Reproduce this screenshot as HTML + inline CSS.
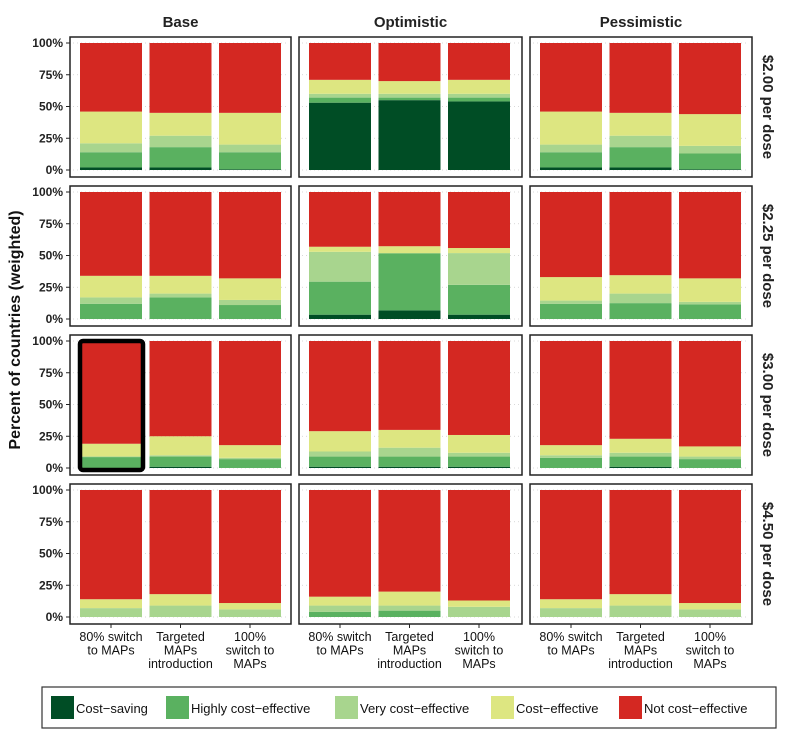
<!DOCTYPE html>
<html><head><meta charset="utf-8">
<style>
body{margin:0;background:#fff;width:786px;height:735px;overflow:hidden;font-family:"Liberation Sans",sans-serif;}
svg text{font-family:"Liberation Sans",sans-serif;}
</style></head>
<body>
<svg id="chart" width="786" height="735" xmlns="http://www.w3.org/2000/svg"></svg>
<script>
const scenarios = ["Base","Optimistic","Pessimistic"];
const prices = ["$2.00 per dose","$2.25 per dose","$3.00 per dose","$4.50 per dose"];
const strategies = [["80%  switch","to MAPs"],["Targeted","MAPs","introduction"],["100%","switch to","MAPs"]];
const categories = ["Cost\u2212saving","Highly cost\u2212effective","Very cost\u2212effective","Cost\u2212effective","Not cost\u2212effective"];
const colors = ["#004d25","#5ab160","#a8d58e","#dde681","#d42822"];
const yTicks = [0,25,50,75,100];
// values: [price][scenario][strategy] = [costSaving, highly, very, costEffective] (remainder = not cost-effective)
const row200 = [
 [[2,12,7,25],[2,16,9,18],[0.5,13.5,6,25]],
 [[53,4,3,11],[55,2,3,10],[54,3,3,11]],
 [[2,12,6,26],[2,16,9,18],[0.5,12.5,6,25]]
];
const row225 = [
 [[0,12,5,17],[0,17,3,14],[0,11,4,17]],
 [[3.4,26,23.5,4],[6.8,45,0,5.5],[3.4,23.5,25,4]],
 [[0,12,2.5,18.5],[0,12.5,7.5,14.5],[0,11.5,2,18.5]]
];
const row300 = [
 [[0,8.6,0.5,10],[1,8,1,15],[0,7,1,10]],
 [[1,8,4,16],[1,8,7,14],[1,8,3,14]],
 [[0,8,2,8],[1,8,3,11],[0,7,2,8]]
];
const row450 = [
 [[0,0,7,7],[0,0,9,9],[0,0,6,5]],
 [[0,4,5,7],[0,5,4,11],[0,0,8,5]],
 [[0,0,7,7],[0,0,9,9],[0,0,6,5]]
];
const values = [row200,row225,row300,row450];

const NS="http://www.w3.org/2000/svg";
const svg=document.getElementById('chart');
function mk(tag,attrs,parent){const e=document.createElementNS(NS,tag);for(const k in attrs)e.setAttribute(k,attrs[k]);(parent||svg).appendChild(e);return e;}
const panelX=[70,299,530], panelW=[221,223,222];
const panelY0=37, panelH=140, rowStride=149;
function yScale(r,v){const top=panelY0+r*rowStride+6, bot=panelY0+r*rowStride+133;return bot-(v/100)*(bot-top);}
function xBar(c,i){return panelX[c]+10+i*69.5;}
const barW=62;

scenarios.forEach((s,c)=>{
 const t=mk('text',{x:panelX[c]+panelW[c]/2,y:27,'text-anchor':'middle','font-size':15,'font-weight':'bold',fill:'#222'});
 t.textContent=s;
 
 
});
prices.forEach((p,r)=>{
 const cy=panelY0+r*rowStride+panelH/2;
 const t=mk('text',{x:763,y:cy,'text-anchor':'middle','font-size':15,'font-weight':'bold',fill:'#222',transform:`rotate(90 763 ${cy})`});
 t.textContent=p;
 
 
});
{const t=mk('text',{x:20,y:330,'text-anchor':'middle','font-size':16,'font-weight':'bold',fill:'#111',transform:'rotate(-90 20 330)'});
 t.textContent='Percent of countries (weighted)';
 
 }

for(let r=0;r<4;r++){
 for(let c=0;c<3;c++){
  const py=panelY0+r*rowStride;
  const g=mk('g',{});
  
  
  yTicks.forEach(v=>{mk('line',{x1:panelX[c]+3,x2:panelX[c]+panelW[c]-3,y1:yScale(r,v),y2:yScale(r,v),stroke:'#ccc','stroke-width':0.8,'stroke-dasharray':'1 3'},g);});
  for(let i=0;i<3;i++){
   const d=values[r][c][i];
   let cum=0;
   const segs=[d[0],d[1],d[2],d[3],Math.max(0,100-d[0]-d[1]-d[2]-d[3])];
   segs.forEach((v,k)=>{
    if(v<=0){return;}
    const y1=yScale(r,cum+v), y0=yScale(r,cum);
    const rc=mk('rect',{x:xBar(c,i),y:y1,width:barW,height:y0-y1,fill:colors[k]},g);
    
    
    cum+=v;
   });
  }
  mk('rect',{x:panelX[c],y:py,width:panelW[c],height:panelH,fill:'none',stroke:'#222','stroke-width':1.5},g);
  if(c===0){
   yTicks.forEach(v=>{
    const y=yScale(r,v);
    mk('line',{x1:panelX[c]-4,x2:panelX[c],y1:y,y2:y,stroke:'#222','stroke-width':1},g);
    const t=mk('text',{x:panelX[c]-7,y:y+4,'text-anchor':'end','font-size':12,'font-weight':'bold',fill:'#222'},g);
    t.textContent=v+'%';
    
    
   });
  }
  if(r===3){
   for(let i=0;i<3;i++){const cx=xBar(c,i)+barW/2;mk('line',{x1:cx,x2:cx,y1:py+panelH,y2:py+panelH+4,stroke:'#222','stroke-width':1},g);}
  }
 }
}
{const h=mk('rect',{x:80,y:341,width:63,height:129,rx:3,fill:'none',stroke:'#000','stroke-width':4.5});
 
 }
for(let c=0;c<3;c++){for(let i=0;i<3;i++){
 const cx=xBar(c,i)+barW/2;
 strategies[i].forEach((ln,j)=>{
  const t=mk('text',{x:cx,y:641+j*13.5,'text-anchor':'middle','font-size':12.5,fill:'#111'});
  t.textContent=ln;
  
  
 });
}}
{const lg=mk('g',{});
 
 
 mk('rect',{x:42,y:687,width:734,height:41,fill:'#fff',stroke:'#333','stroke-width':1.2},lg);
 const lx=[51,166,335,491,619];
 categories.forEach((cat,k)=>{
  const e=mk('g',{},lg);
  
  
  mk('rect',{x:lx[k],y:696,width:23,height:23,fill:colors[k]},e);
  const t=mk('text',{x:lx[k]+25,y:713,'font-size':13,fill:'#111'},e);
  t.textContent=cat;
 });}
</script>
</body></html>
